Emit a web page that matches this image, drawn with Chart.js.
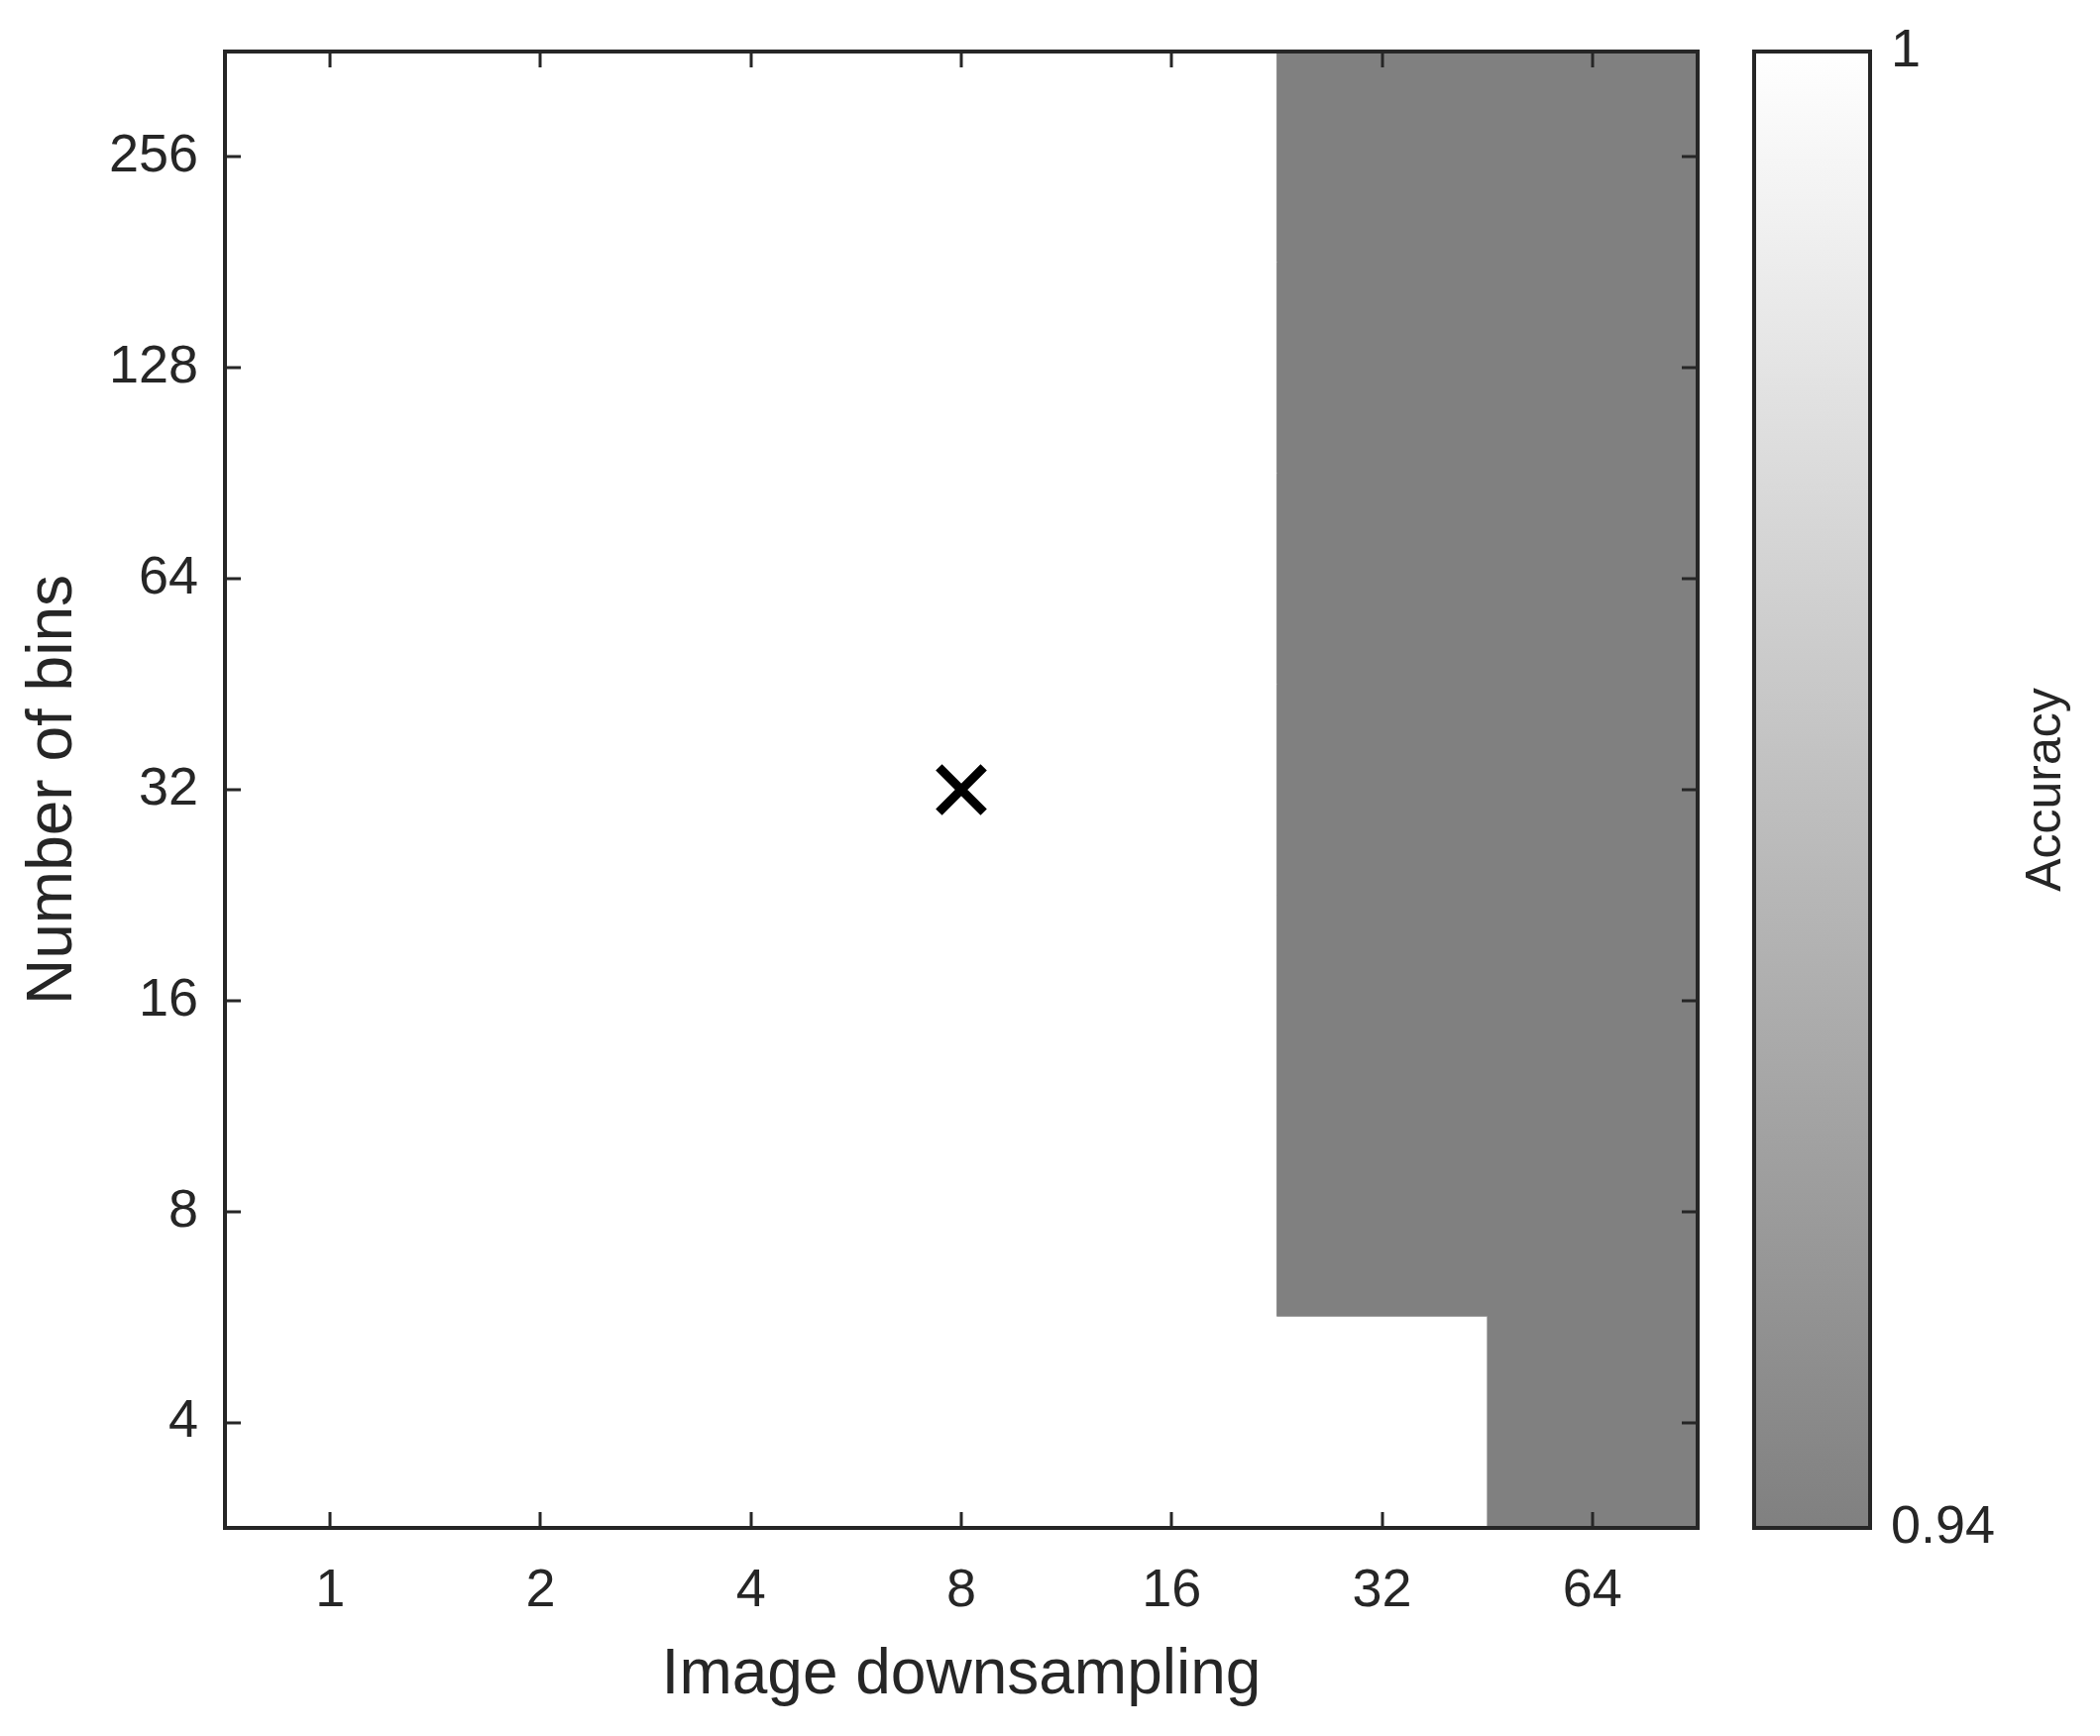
<!DOCTYPE html>
<html><head><meta charset="utf-8">
<script src="https://cdn.jsdelivr.net/npm/chart.js@4.4.0/dist/chart.umd.min.js"></script>
<style>html,body{margin:0;padding:0;background:#fff}canvas{display:block}</style>
</head><body>
<canvas id="c" width="2119" height="1752"></canvas>
<script>
// ---- data ----
const downsampling = ['1','2','4','8','16','32','64'];          // x categories
const bins = ['4','8','16','32','64','128','256'];               // y categories (bottom to top)
// accuracy per row of bins (bottom to top), one value per downsampling column
const acc_bins4   = [1, 1, 1, 1, 1, 1,    0.94];
const acc_bins8   = [1, 1, 1, 1, 1, 0.94, 0.94];
const acc_bins16  = [1, 1, 1, 1, 1, 0.94, 0.94];
const acc_bins32  = [1, 1, 1, 1, 1, 0.94, 0.94];
const acc_bins64  = [1, 1, 1, 1, 1, 0.94, 0.94];
const acc_bins128 = [1, 1, 1, 1, 1, 0.94, 0.94];
const acc_bins256 = [1, 1, 1, 1, 1, 0.94, 0.94];
const accuracyRows = [acc_bins4, acc_bins8, acc_bins16, acc_bins32, acc_bins64, acc_bins128, acc_bins256];
const bestPoint = {x: '8', y: '32'};
const colorbarTicks = [0.94, 1];
const colorMin = 0.94, colorMax = 1;

// ---- style ----
const FONT = "'Liberation Sans', Arial, Helvetica, sans-serif";
const INK = '#262626';
function grayOf(v){
  let t = (v - colorMin) / (colorMax - colorMin);
  t = Math.max(0, Math.min(1, t));
  const g = Math.round(128 + t * 127);
  return `rgb(${g},${g},${g})`;
}

const rowDatasets = accuracyRows.map((row, i) => ({
  type: 'bar',
  label: 'bins ' + bins[i],
  data: row.map(() => [i - 0.5, i + 0.5]),
  backgroundColor: row.map(grayOf),
  borderWidth: 0,
  barPercentage: 1,
  categoryPercentage: 1,
  grouped: false,
  order: 2
}));

const markerDataset = {
  type: 'line',
  label: 'best',
  data: [{x: bestPoint.x, y: bins.indexOf(bestPoint.y)}],
  showLine: false,
  pointStyle: 'crossRot',
  pointRadius: 32,
  pointBorderWidth: 9,
  pointBorderColor: '#000',
  pointBackgroundColor: '#000',
  order: 0
};

function noPad(s){ s.paddingTop = 0; s.paddingBottom = 0; s.paddingLeft = 0; s.paddingRight = 0; }

const TICK = 16;
const framePlugin = {
  id: 'frame',
  afterDraw(chart){
    const ctx = chart.ctx, a = chart.chartArea;
    const xs = chart.scales.x, ys = chart.scales.y, cb = chart.scales.cb;
    ctx.save();
    // ticks
    ctx.strokeStyle = INK; ctx.lineWidth = 3; ctx.lineCap = 'butt';
    ctx.beginPath();
    xs.ticks.forEach((t, i) => {
      const px = Math.round(xs.getPixelForTick(i));
      ctx.moveTo(px, a.bottom); ctx.lineTo(px, a.bottom - TICK);
      ctx.moveTo(px, a.top); ctx.lineTo(px, a.top + TICK);
    });
    ys.ticks.forEach(t => {
      const py = Math.round(ys.getPixelForValue(t.value));
      ctx.moveTo(a.left, py); ctx.lineTo(a.left + TICK, py);
      ctx.moveTo(a.right, py); ctx.lineTo(a.right - TICK, py);
    });
    ctx.stroke();
    // frame
    ctx.lineWidth = 4;
    ctx.strokeRect(a.left, a.top, a.right - a.left, a.bottom - a.top);

    // colorbar
    const cbL = a.right + 57, cbR = a.right + 174;
    const yTop = cb.getPixelForValue(colorMax), yBot = cb.getPixelForValue(colorMin);
    const grad = ctx.createLinearGradient(0, yBot, 0, yTop);
    grad.addColorStop(0, grayOf(colorMin));
    grad.addColorStop(1, grayOf(colorMax));
    ctx.fillStyle = grad;
    ctx.fillRect(cbL, yTop, cbR - cbL, yBot - yTop);
    ctx.lineWidth = 3;
    ctx.beginPath();
    cb.ticks.forEach(t => {
      const py = Math.round(cb.getPixelForValue(t.value));
      ctx.moveTo(cbR, py); ctx.lineTo(cbR - 14, py);
    });
    ctx.stroke();
    ctx.lineWidth = 4;
    ctx.strokeRect(cbL, yTop, cbR - cbL, yBot - yTop);

    // colorbar label
    ctx.fillStyle = INK;
    ctx.font = `50px ${FONT}`;
    ctx.textAlign = 'center'; ctx.textBaseline = 'middle';
    ctx.translate(2065, (yTop + yBot) / 2);
    ctx.rotate(-Math.PI / 2);
    ctx.fillText('Accuracy', 0, 0);
    ctx.restore();
  }
};

new Chart(document.getElementById('c'), {
  data: {labels: downsampling, datasets: [...rowDatasets, markerDataset]},
  options: {
    responsive: false,
    devicePixelRatio: 1,
    animation: false,
    events: [],
    layout: {padding: {top: 52, left: 0, right: 0, bottom: 0}},
    plugins: {legend: {display: false}, tooltip: {enabled: false}},
    scales: {
      x: {
        type: 'category',
        offset: true,
        grid: {display: false, drawTicks: false},
        border: {display: false},
        ticks: {color: INK, font: {family: FONT, size: 54}, padding: 32, maxRotation: 0, autoSkip: false},
        title: {display: true, text: 'Image downsampling', color: INK, font: {family: FONT, size: 64}, padding: {top: 0, bottom: 22}},
        afterFit(s){ s.height = 210; noPad(s); }
      },
      y: {
        type: 'linear',
        position: 'left',
        min: -0.5, max: 6.5,
        grid: {display: false, drawTicks: false},
        border: {display: false},
        afterBuildTicks(s){ s.ticks = bins.map((_, i) => ({value: i})); },
        ticks: {color: INK, font: {family: FONT, size: 54}, padding: 27, callback: v => bins[v]},
        title: {display: true, text: 'Number of bins', color: INK, font: {family: FONT, size: 64}, padding: {top: 16, bottom: 0}},
        afterFit(s){ s.width = 227; noPad(s); }
      },
      cb: {
        type: 'linear',
        position: 'right',
        min: colorMin, max: colorMax,
        grid: {display: false, drawTicks: false},
        border: {display: false},
        afterBuildTicks(s){ s.ticks = colorbarTicks.map(v => ({value: v})); },
        ticks: {color: INK, font: {family: FONT, size: 54}, padding: 195, callback: v => (v === 1 ? '1' : v.toFixed(2))},
        afterFit(s){ s.width = 406; noPad(s); }
      }
    }
  },
  plugins: [framePlugin]
});
</script>
</body></html>
